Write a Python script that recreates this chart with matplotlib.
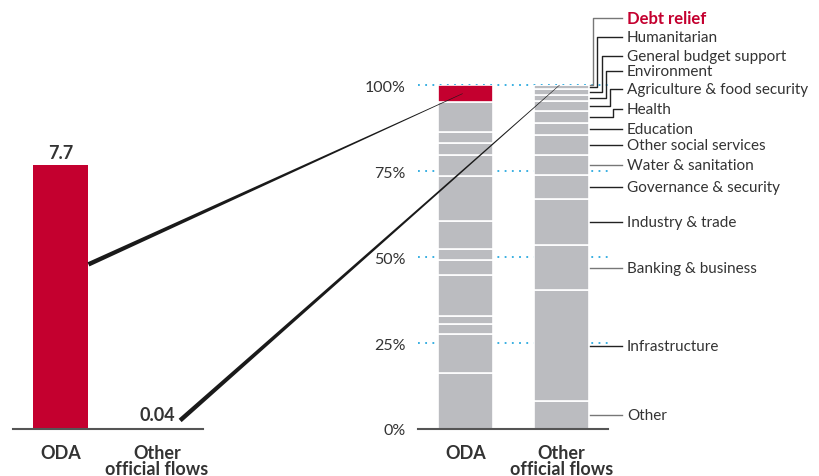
"""ODA and other official flows: totals and sector shares."""

import numpy as np
import matplotlib
matplotlib.use("Agg")
import matplotlib.pyplot as plt
from matplotlib.patches import Polygon
from matplotlib.transforms import IdentityTransform

plt.rcParams["font.family"] = ["Lato", "DejaVu Sans"]

# data
flows = ["ODA", "Other\nofficial flows"]
totals = [7.7, 0.04]
total_labels = ["7.7", "0.04"]

sectors = ["Other", "Infrastructure", "Banking & business", "Industry & trade",
           "Governance & security", "Water & sanitation", "Other social services",
           "Education", "Health", "Agriculture & food security", "Environment",
           "General budget support", "Humanitarian", "Debt relief"]
oda_share = [16.2, 11.4, 2.9, 2.4, 12.0, 4.2, 3.2, 8.3, 12.9, 6.2, 3.3, 3.3, 8.7, 5.0]
oof_share = [8.1, 32.2, 13.1, 13.6, 6.7, 5.9, 5.8, 3.6, 3.3, 3.1, 1.8, 1.5, 1.3, 0.0]
pct_ticks = [0, 25, 50, 75, 100]

RED = "#c4002f"
GREY = "#bbbcc0"
TEXT = "#333333"
DOTS = "#29a9df"
W, H = 819, 477

fig = plt.figure(figsize=(W / 100, H / 100), dpi=100)
ax1 = fig.add_axes([13 / W, 47 / H, 190 / W, 344 / H])
ax2 = fig.add_axes([418 / W, 47 / H, 190 / W, 344 / H])

for ax in (ax1, ax2):
    for side in ("top", "right", "left"):
        ax.spines[side].set_visible(False)
    ax.spines["bottom"].set_color("#555555")
    ax.spines["bottom"].set_linewidth(1.5)
    ax.set_xticks([0, 1])
    ax.set_xticklabels(flows, fontsize=13, fontweight="bold", color=TEXT, linespacing=0.95)
    ax.tick_params(axis="x", length=0, pad=10.5)

# left: totals
ax1.set_xlim(-0.492, 1.477)
ax1.set_ylim(0, 10.03)
ax1.set_yticks([])
ax1.bar([0, 1], totals, width=0.57, color=RED)
for i, (v, lab) in enumerate(zip(totals, total_labels)):
    ax1.annotate(lab, (i, v), xytext=(0, 3), textcoords="offset points", ha="center",
                 va="bottom", fontsize=13, fontweight="bold", color=TEXT)

# right: stacked shares
ax2.set_xlim(-0.495, 1.484)
ax2.set_ylim(0, 100)
ax2.set_yticks(pct_ticks)
ax2.set_yticklabels([f"{t}%" for t in pct_ticks], fontsize=11.5, color=TEXT)
ax2.tick_params(axis="y", length=0, pad=9)
for t in pct_ticks[1:]:
    ax2.axhline(t, color=DOTS, linestyle=(0, (1, 3)), linewidth=1.3, zorder=0, clip_on=False)

bar_w = 0.573
bottoms = [0.0, 0.0]
for k, name in enumerate(sectors):
    for i, share in enumerate((oda_share, oof_share)):
        color = RED if (name == "Debt relief" and i == 0) else GREY
        ax2.bar(i, share[k], bottom=bottoms[i], width=bar_w, color=color,
                edgecolor="white", linewidth=1.2, zorder=2)
        bottoms[i] += share[k]

# sector labels with leader lines (right of the second bar)
mids = np.cumsum(oof_share) - np.array(oof_share) / 2
x_start, x_end, x_text = 1.292, 1.627, 1.682
# bent leaders for the thin top segments: (vertical x, label y in %)
bent = {"Debt relief": (1.331, 119.4), "Humanitarian": (1.373, 113.9),
        "General budget support": (1.419, 108.5), "Environment": (1.464, 104.0),
        "Agriculture & food security": (1.505, 98.8), "Health": (1.540, 93.0)}
for k, name in enumerate(sectors):
    y = mids[k]
    if name in bent:
        xv, ly = bent[name]
        xs, ys = [x_start, xv, xv, x_end], [y, y, ly, ly]
    else:
        ly = y
        xs, ys = [x_start, x_end], [y, y]
    lc = "#777777" if name in ("Debt relief", "Other", "Banking & business", "Water & sanitation") else "#222222"
    ax2.plot(xs, ys, color=lc, linewidth=1, clip_on=False, zorder=3)
    red = name == "Debt relief"
    ax2.text(x_text, ly, name, va="center", ha="left", fontsize=11 if not red else 12,
             fontweight="bold" if red else "normal", color=RED if red else TEXT, clip_on=False)


# tapered connectors between the two panels
def taper(ax_a, pa, ax_b, pb, w0, w1):
    x0, y0 = ax_a.transData.transform(pa)
    x1, y1 = ax_b.transData.transform(pb)
    length = np.hypot(x1 - x0, y1 - y0)
    nx, ny = -(y1 - y0) / length, (x1 - x0) / length
    pts = [(x0 + nx * w0 / 2, y0 + ny * w0 / 2), (x1 + nx * w1 / 2, y1 + ny * w1 / 2),
           (x1 - nx * w1 / 2, y1 - ny * w1 / 2), (x0 - nx * w0 / 2, y0 - ny * w0 / 2)]
    fig.add_artist(Polygon(pts, closed=True, transform=IdentityTransform(),
                           facecolor="#1a1a1a", edgecolor="none", zorder=5))


taper(ax1, (0.29, 4.8), ax2, (-0.03, 97.5), 4.5, 0.5)
taper(ax1, (1.24, 0.25), ax2, (0.98, 100), 4.5, 0.5)

fig.savefig("out.png", dpi=100)
